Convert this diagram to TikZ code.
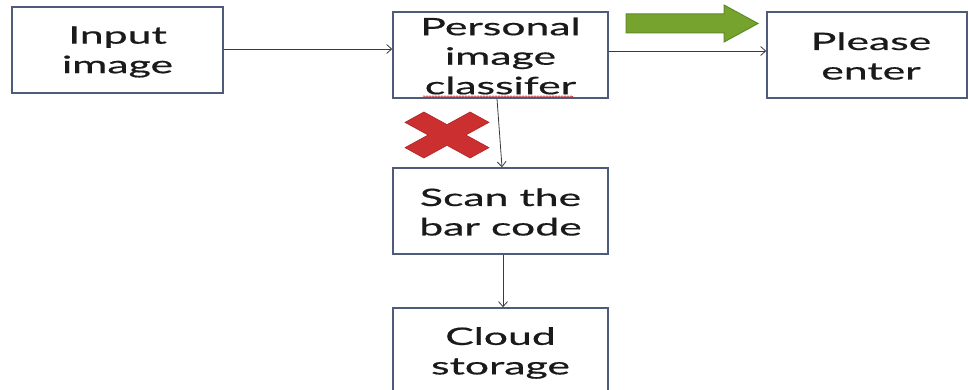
\documentclass[tikz,border=0pt]{standalone}
\usepackage{fontspec}
\setmainfont{Lato}[FakeStretch=1.78,FakeBold=0.6]
\usetikzlibrary{arrows.meta,decorations.pathmorphing}
\definecolor{boxline}{HTML}{4F5B7A}
\definecolor{connline}{HTML}{3A3A3A}
\definecolor{gfill}{HTML}{76A32E}
\definecolor{gdraw}{HTML}{5F8B25}
\definecolor{xred}{HTML}{CC2F2F}
\definecolor{xdraw}{HTML}{B02424}
\definecolor{txtc}{HTML}{1A1A1A}
\begin{document}
\begin{tikzpicture}[x=1pt,y=-1pt,
  box/.style={draw=boxline, line width=1.6pt, fill=white, rectangle, inner sep=0pt},
  lbl/.style={align=center, inner sep=0pt, text=txtc, font=\fontsize{24}{29.5}\selectfont},
  conn/.style={draw=connline, line width=0.8pt, -{Straight Barb[length=5pt,width=9pt]}},
  garrow/.style={fill=gfill, draw=gdraw, line width=1pt, line join=miter},
  xmark/.style={fill=xred, draw=xdraw, line width=0.6pt}]
\useasboundingbox (0,0) rectangle (969,390);
% boxes
\node[box, minimum width=211pt, minimum height=86pt] (in) at (117.5,50) {};
\node[box, minimum width=215pt, minimum height=86pt] (pic) at (500.5,55) {};
\node[box, minimum width=200pt, minimum height=86pt] (pl) at (867,55) {};
\node[box, minimum width=215pt, minimum height=86pt] (scan) at (500.5,211) {};
\node[box, minimum width=215pt, minimum height=88pt] (cloud) at (500.5,352) {};
% labels
\node[lbl] (inT) at ([yshift=-2pt]in.center) {Input\\image};
\node[lbl] (picT) at ([yshift=-1pt]pic.center) {Personal\\image\\classifer};
\node[lbl] (plT) at ([xshift=4pt,yshift=-1pt]pl.center) {Please\\enter};
\node[lbl] (scanT) at ([yshift=-1pt]scan.center) {Scan the\\bar code};
\node[lbl] (cloudT) at ([yshift=-1pt]cloud.center) {Cloud\\storage};
% spell-check squiggle
\draw[xred, line width=0.6pt, decorate, decoration={snake, amplitude=0.7pt, segment length=3pt}] (423,96.5) -- (573,96.5);
% connectors
\draw[conn] ([yshift=1pt]in.east) -- ([yshift=1pt]in.east -| pic.west);
\draw[conn] ([yshift=4pt]pic.east) -- ([yshift=4pt]pic.east -| pl.west);
\draw[conn] ([xshift=-3.5pt]pic.south) -- ([xshift=1.5pt]scan.north);
\draw[conn] ([xshift=2.5pt]scan.south) -- ([xshift=2.5pt]cloud.north);
% green block arrow
\draw[garrow] (626,14) -- (724,14) -- (724,5) -- (758,23.5) -- (724,42) -- (724,33) -- (626,33) -- cycle;
% red cross
\begin{scope}[shift={(447,135)}, xscale=42, yscale=23]
\draw[xmark] (-1,-0.55) -- (-0.55,-1) -- (0,-0.45) -- (0.55,-1) -- (1,-0.55) -- (0.45,0) -- (1,0.55) -- (0.55,1) -- (0,0.45) -- (-0.55,1) -- (-1,0.55) -- (-0.45,0) -- cycle;
\end{scope}
\end{tikzpicture}
\end{document}
